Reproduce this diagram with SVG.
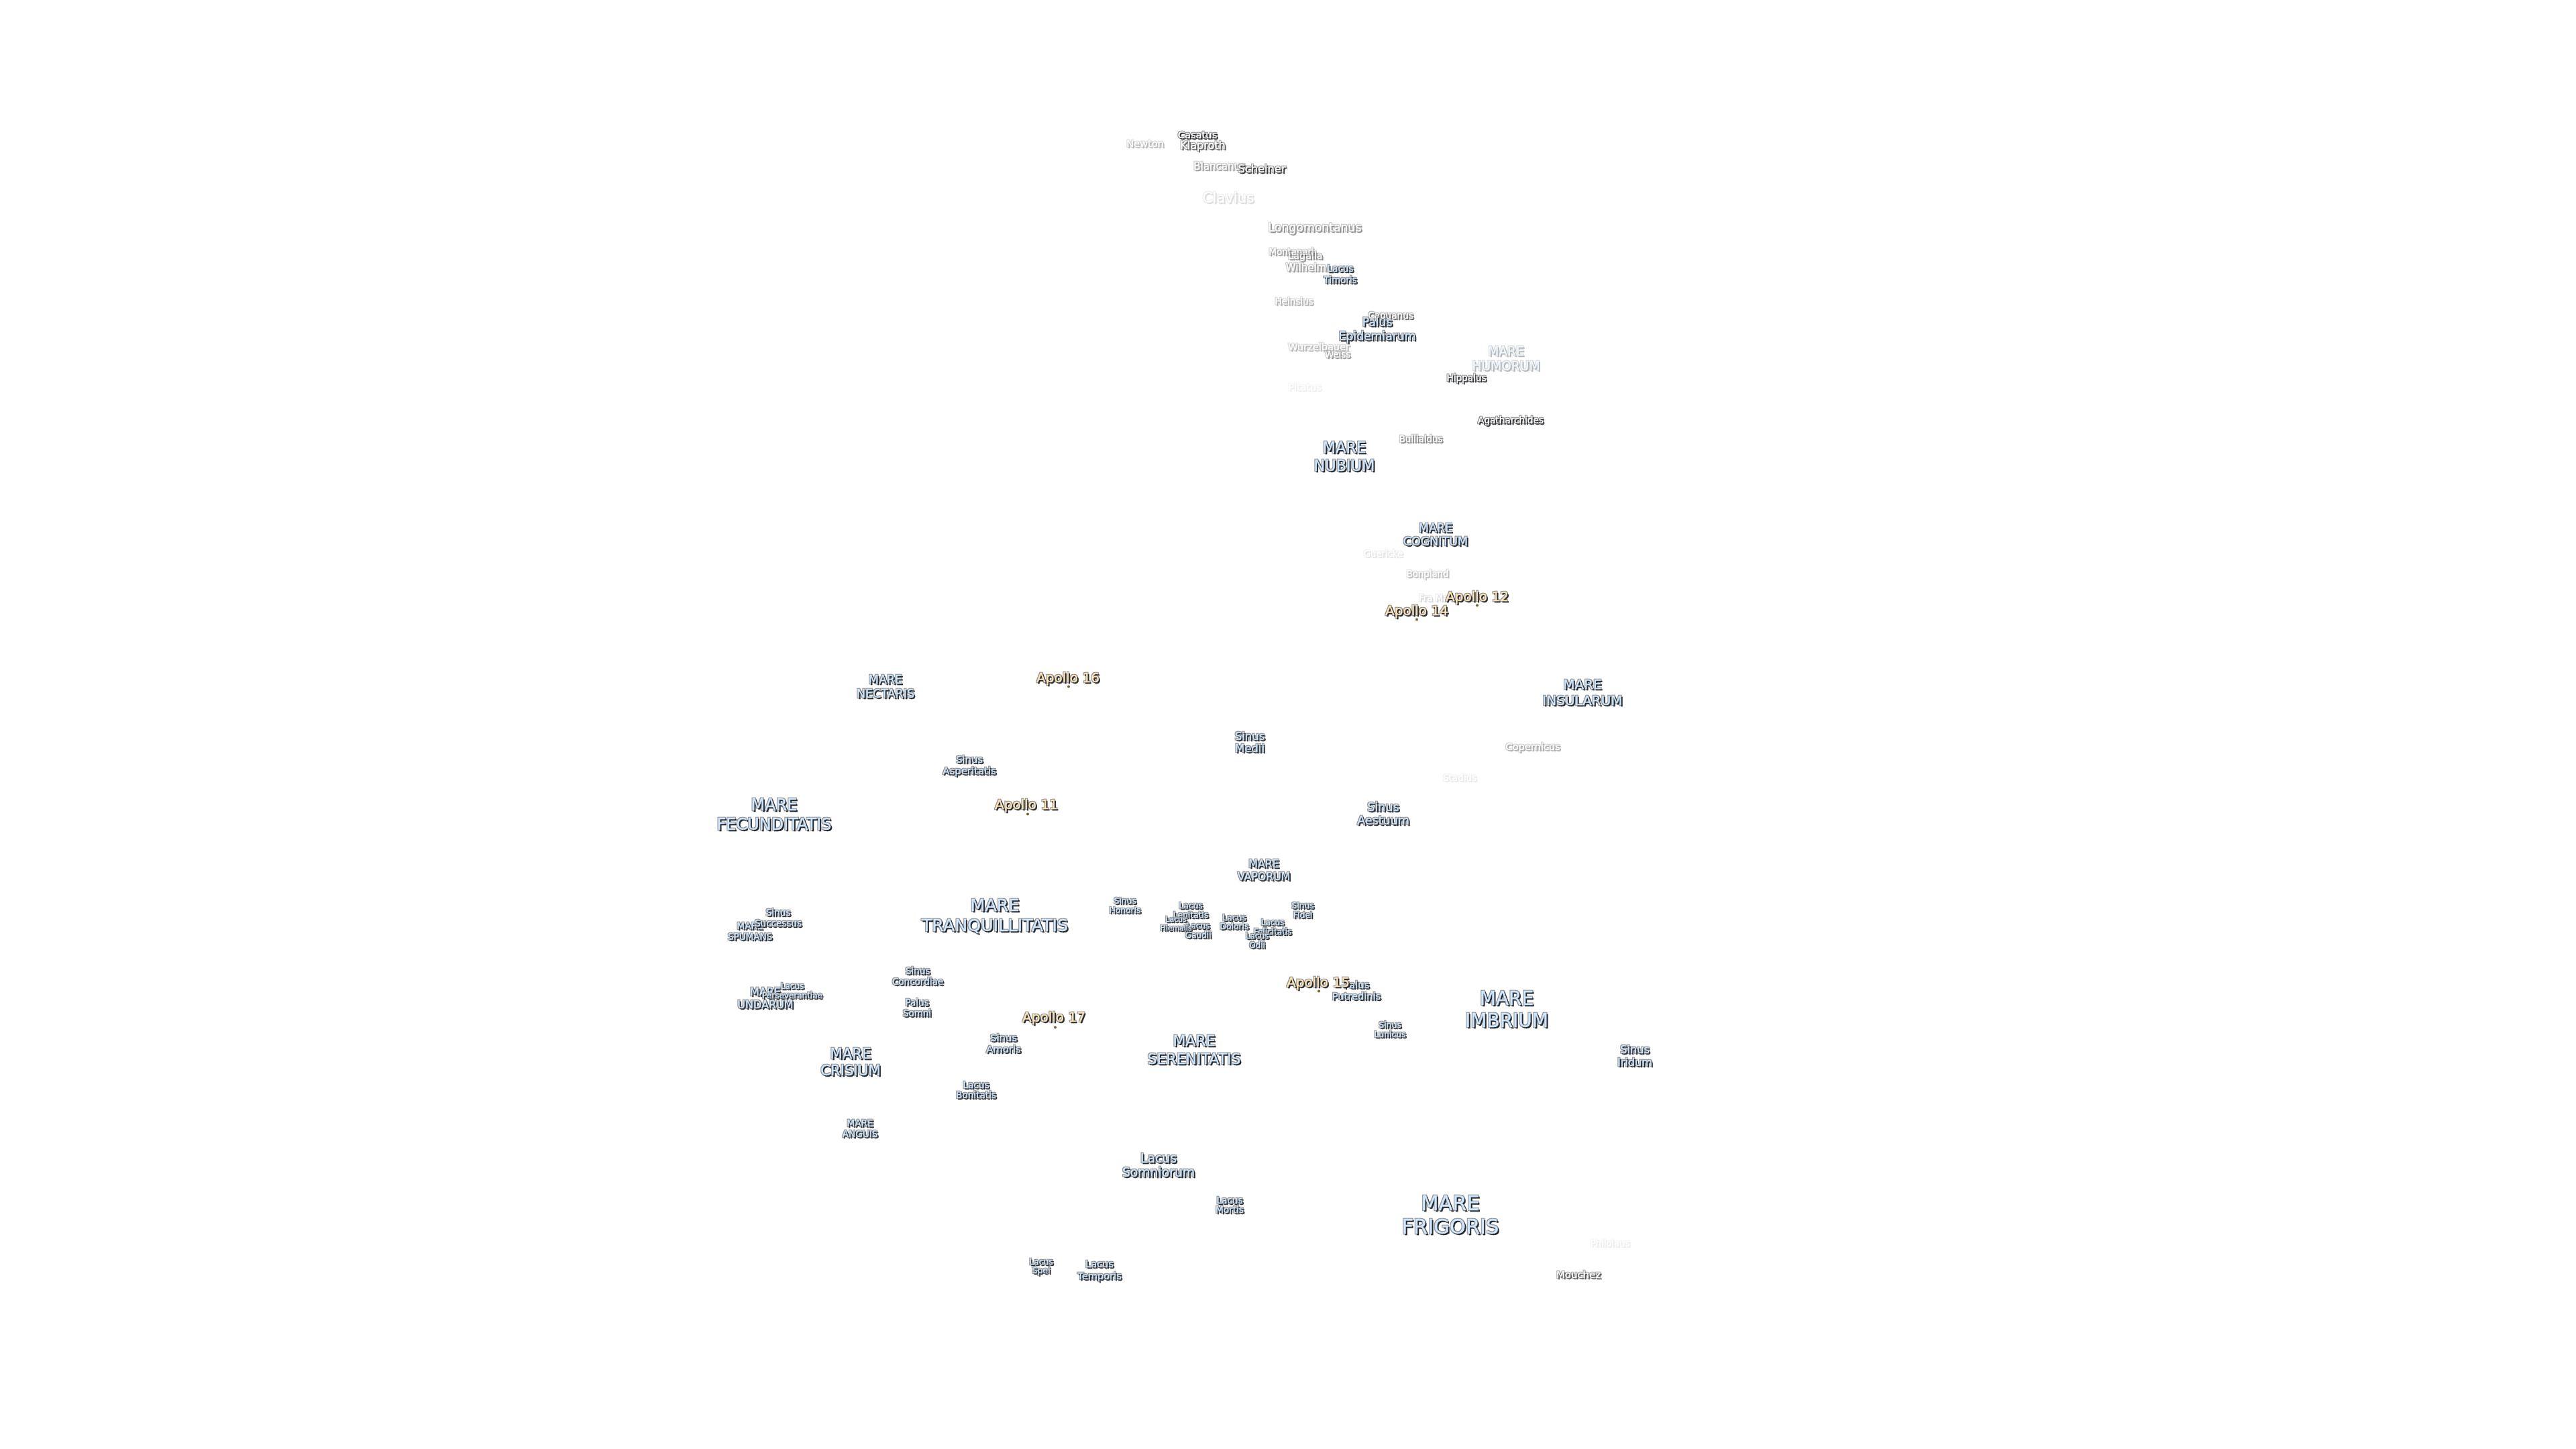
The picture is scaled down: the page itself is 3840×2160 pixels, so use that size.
<svg xmlns="http://www.w3.org/2000/svg" width="3840" height="2160" viewBox="0 0 3840 2160">
<style>
text{font-family:"DejaVu Sans",sans-serif;text-anchor:middle;filter:url(#h);stroke-width:.3}
.m text{fill:#d0e8ff;stroke:#d0e8ff}
.c text{fill:#fff;stroke:#fff}
.a text{fill:#ffe6b8;stroke:#ffe6b8}
.a circle{fill:#7a5c30}
</style>
<defs>
<filter id="h" x="-20%" y="-40%" width="140%" height="180%" color-interpolation-filters="sRGB">
<feMorphology in="SourceAlpha" operator="dilate" radius="1.2" result="d"/>
<feGaussianBlur in="d" stdDeviation="0.6" result="db"/>
<feFlood flood-color="#8c8c8c"/><feComposite in2="db" operator="in" result="halo"/>
<feOffset in="SourceAlpha" dx="1.5" dy="1.5" result="o"/>
<feMorphology in="o" operator="dilate" radius="0.45" result="od"/>
<feGaussianBlur in="od" stdDeviation="0.35" result="ob"/>
<feFlood flood-color="#23262a"/><feComposite in2="ob" operator="in" result="shadow"/>
<feGaussianBlur in="SourceGraphic" stdDeviation="0.3" result="f"/>
<feMerge><feMergeNode in="halo"/><feMergeNode in="shadow"/><feMergeNode in="f"/></feMerge>
</filter>
</defs>
<rect width="3840" height="2160" fill="#fff"/>
<g transform="translate(0 .5)">
<g id="newton" class="c" opacity=".33"><text x="1707" y="218" font-size="14.6">Newton</text></g>
<g id="klaproth" class="c" opacity=".75"><text x="1793" y="221" font-size="16">Klaproth</text></g>
<g id="casatus" class="c"><text x="1785" y="205" font-size="14.7">Casatus</text></g>
<g id="blancanus" class="c" opacity=".45"><text x="1818" y="252" font-size="15">Blancanus</text></g>
<g id="scheiner" class="c" opacity=".9"><text x="1881" y="256" font-size="16.3">Scheiner</text></g>
<g id="clavius" class="c" opacity=".16"><text x="1831" y="301" font-size="21.3">Clavius</text></g>
<g id="longomontanus" class="c" opacity=".5"><text x="1960" y="344" font-size="17.3">Longomontanus</text></g>
<g id="montanari" class="c" opacity=".45"><text x="1925" y="379" font-size="13.3">Montanari</text></g>
<g id="lagalla" class="c" opacity=".55"><text x="1946" y="385" font-size="14.3">Lagalla</text></g>
<g id="wilhelm" class="c" opacity=".45"><text x="1947" y="403" font-size="15">Wilhelm</text></g>
<g id="lacus-timoris" class="m"><text x="1998" y="404" font-size="13.5"><tspan x="1998">Lacus</tspan><tspan x="1998" y="421">Timoris</tspan></text></g>
<g id="heinsius" class="c" opacity=".36"><text x="1929" y="453" font-size="13.5">Heinsius</text></g>
<g id="capuanus" class="c" opacity=".7"><text x="2073" y="474" font-size="13.6">Capuanus</text></g>
<g id="palus-epidemiarum" class="m"><text x="2053" y="485" font-size="17.2"><tspan x="2053">Palus</tspan><tspan x="2053" y="506">Epidemiarum</tspan></text></g>
<g id="wurzelbauer" class="c" opacity=".33"><text x="1966" y="521" font-size="14.5">Wurzelbauer</text></g>
<g id="weiss" class="c" opacity=".47"><text x="1994" y="532" font-size="13.3">Weiss</text></g>
<g id="mare-humorum" class="m" opacity=".33"><text x="2245" y="529" font-size="18.6"><tspan x="2245">MARE</tspan><tspan x="2245" y="551">HUMORUM</tspan></text></g>
<g id="hippalus" class="c" opacity=".95"><text x="2186" y="567" font-size="13.6">Hippalus</text></g>
<g id="pitatus" class="c" opacity=".07"><text x="1945" y="581" font-size="14.5">Pitatus</text></g>
<g id="agatharchides" class="c"><text x="2252" y="630" font-size="13.6">Agatharchides</text></g>
<g id="bullialdus" class="c" opacity=".55"><text x="2118" y="658" font-size="13.4">Bullialdus</text></g>
<g id="mare-nubium" class="m"><text x="2004" y="674" font-size="22.4"><tspan x="2004">MARE</tspan><tspan x="2004" y="701">NUBIUM</tspan></text></g>
<g id="mare-cognitum" class="m"><text x="2140" y="792" font-size="17.5"><tspan x="2140">MARE</tspan><tspan x="2140" y="812">COGNITUM</tspan></text></g>
<g id="guericke" class="c" opacity=".12"><text x="2062" y="829" font-size="13.2">Guericke</text></g>
<g id="bonpland" class="c" opacity=".3"><text x="2128" y="859" font-size="13.3">Bonpland</text></g>
<g id="fra-mauro" class="c" opacity=".18"><text x="2148" y="895" font-size="13.3">Fra Mauro</text></g>
<g id="mare-nectaris" class="m"><text x="1320" y="1018" font-size="17.5"><tspan x="1320">MARE</tspan><tspan x="1320" y="1039">NECTARIS</tspan></text></g>
<g id="sinus-asperitatis" class="m"><text x="1445" y="1136" font-size="14.9"><tspan x="1445">Sinus</tspan><tspan x="1445" y="1153">Asperitatis</tspan></text></g>
<g id="mare-fecunditatis" class="m"><text x="1154" y="1207" font-size="24"><tspan x="1154">MARE</tspan><tspan x="1154" y="1236">FECUNDITATIS</tspan></text></g>
<g id="mare-insularum" class="m"><text x="2359" y="1026" font-size="20"><tspan x="2359">MARE</tspan><tspan x="2359" y="1050">INSULARUM</tspan></text></g>
<g id="sinus-medii" class="m"><text x="1863" y="1102" font-size="16.5"><tspan x="1863">Sinus</tspan><tspan x="1863" y="1120">Medii</tspan></text></g>
<g id="copernicus" class="c" opacity=".4"><text x="2285" y="1117" font-size="14.6">Copernicus</text></g>
<g id="stadius" class="c" opacity=".1"><text x="2176" y="1163" font-size="13.5">Stadius</text></g>
<g id="sinus-aestuum" class="m"><text x="2062" y="1208" font-size="17.5"><tspan x="2062">Sinus</tspan><tspan x="2062" y="1228">Aestuum</tspan></text></g>
<g id="mare-vaporum" class="m"><text x="1884" y="1292" font-size="15.8"><tspan x="1884">MARE</tspan><tspan x="1884" y="1311">VAPORUM</tspan></text></g>
<g id="sinus-honoris" class="m"><text x="1677" y="1346" font-size="12.3"><tspan x="1677">Sinus</tspan><tspan x="1677" y="1360">Honoris</tspan></text></g>
<g id="lacus-gaudii" class="m"><text x="1786" y="1383" font-size="12"><tspan x="1786">Lacus</tspan><tspan x="1786" y="1397">Gaudii</tspan></text></g>
<g id="lacus-lenitatis" class="m"><text x="1775" y="1353" font-size="12.3"><tspan x="1775">Lacus</tspan><tspan x="1775" y="1367">Lenitatis</tspan></text></g>
<g id="lacus-hiemalis" class="m"><text x="1753" y="1373" font-size="10.9"><tspan x="1753">Lacus</tspan><tspan x="1753" y="1386">Hiemalis</tspan></text></g>
<g id="lacus-doloris" class="m"><text x="1840" y="1371" font-size="12.3"><tspan x="1840">Lacus</tspan><tspan x="1840" y="1384">Doloris</tspan></text></g>
<g id="lacus-felicitatis" class="m"><text x="1897" y="1378" font-size="12"><tspan x="1897">Lacus</tspan><tspan x="1897" y="1392">Felicitatis</tspan></text></g>
<g id="lacus-odii" class="m"><text x="1874" y="1398" font-size="12"><tspan x="1874">Lacus</tspan><tspan x="1874" y="1412">Odii</tspan></text></g>
<g id="sinus-fidei" class="m"><text x="1942" y="1353" font-size="12.3"><tspan x="1942">Sinus</tspan><tspan x="1942" y="1367">Fidei</tspan></text></g>
<g id="mare-tranquillitatis" class="m"><text x="1483" y="1357" font-size="25.4"><tspan x="1483">MARE</tspan><tspan x="1483" y="1387">TRANQUILLITATIS</tspan></text></g>
<g id="mare-spumans" class="m"><text x="1118" y="1384" font-size="13.5"><tspan x="1118">MARE</tspan><tspan x="1118" y="1400">SPUMANS</tspan></text></g>
<g id="sinus-successus" class="m"><text x="1160" y="1364" font-size="13.5"><tspan x="1160">Sinus</tspan><tspan x="1160" y="1380">Successus</tspan></text></g>
<g id="mare-undarum" class="m"><text x="1141" y="1483" font-size="16"><tspan x="1141">MARE</tspan><tspan x="1141" y="1502">UNDARUM</tspan></text></g>
<g id="lacus-perseverantiae" class="m"><text x="1181" y="1473" font-size="12"><tspan x="1181">Lacus</tspan><tspan x="1181" y="1487">Perseverantiae</tspan></text></g>
<g id="sinus-concordiae" class="m"><text x="1368" y="1451" font-size="13.5"><tspan x="1368">Sinus</tspan><tspan x="1368" y="1467">Concordiae</tspan></text></g>
<g id="palus-somni" class="m"><text x="1367" y="1498" font-size="13.4"><tspan x="1367">Palus</tspan><tspan x="1367" y="1514">Somni</tspan></text></g>
<g id="sinus-amoris" class="m"><text x="1496" y="1551" font-size="14.8"><tspan x="1496">Sinus</tspan><tspan x="1496" y="1568">Amoris</tspan></text></g>
<g id="mare-crisium" class="m"><text x="1268" y="1577" font-size="21.3"><tspan x="1268">MARE</tspan><tspan x="1268" y="1602">CRISIUM</tspan></text></g>
<g id="lacus-bonitatis" class="m"><text x="1455" y="1621" font-size="13.6"><tspan x="1455">Lacus</tspan><tspan x="1455" y="1636">Bonitatis</tspan></text></g>
<g id="palus-putredinis" class="m"><text x="2022" y="1472" font-size="14.6"><tspan x="2022">Palus</tspan><tspan x="2022" y="1489">Putredinis</tspan></text></g>
<g id="sinus-lunicus" class="m"><text x="2072" y="1531" font-size="12.4"><tspan x="2072">Sinus</tspan><tspan x="2072" y="1545">Lunicus</tspan></text></g>
<g id="mare-imbrium" class="m"><text x="2246" y="1497" font-size="28"><tspan x="2246">MARE</tspan><tspan x="2246" y="1530">IMBRIUM</tspan></text></g>
<g id="sinus-iridum" class="m"><text x="2437" y="1569" font-size="16.2"><tspan x="2437">Sinus</tspan><tspan x="2437" y="1588">Iridum</tspan></text></g>
<g id="mare-serenitatis" class="m"><text x="1780" y="1558" font-size="22"><tspan x="1780">MARE</tspan><tspan x="1780" y="1585">SERENITATIS</tspan></text></g>
<g id="mare-anguis" class="m"><text x="1282" y="1678" font-size="13.6"><tspan x="1282">MARE</tspan><tspan x="1282" y="1694">ANGUIS</tspan></text></g>
<g id="lacus-somniorum" class="m"><text x="1727" y="1732" font-size="18.8"><tspan x="1727">Lacus</tspan><tspan x="1727" y="1753">Somniorum</tspan></text></g>
<g id="lacus-mortis" class="m"><text x="1833" y="1793" font-size="13.6"><tspan x="1833">Lacus</tspan><tspan x="1833" y="1807">Mortis</tspan></text></g>
<g id="lacus-spei" class="m"><text x="1552" y="1884" font-size="12.4"><tspan x="1552">Lacus</tspan><tspan x="1552" y="1897">Spei</tspan></text></g>
<g id="lacus-temporis" class="m"><text x="1639" y="1888" font-size="14.6"><tspan x="1639">Lacus</tspan><tspan x="1639" y="1906">Temporis</tspan></text></g>
<g id="mare-frigoris" class="m"><text x="2162" y="1803" font-size="30.5"><tspan x="2162">MARE</tspan><tspan x="2162" y="1838">FRIGORIS</tspan></text></g>
<g id="philolaus" class="c" opacity=".08"><text x="2400" y="1857" font-size="13.2">Philolaus</text></g>
<g id="mouchez" class="c" opacity=".77"><text x="2353" y="1904" font-size="14.9">Mouchez</text></g>
<g id="apollo-12" class="a"><circle cx="2202" cy="902" r="2"/><text x="2202" y="895" font-size="20">Apollo 12</text></g>
<g id="apollo-14" class="a"><circle cx="2112" cy="923" r="2"/><text x="2112" y="916" font-size="20">Apollo 14</text></g>
<g id="apollo-16" class="a"><circle cx="1593" cy="1023" r="2"/><text x="1592" y="1016" font-size="20">Apollo 16</text></g>
<g id="apollo-11" class="a"><circle cx="1532" cy="1213" r="2"/><text x="1530" y="1205" font-size="20">Apollo 11</text></g>
<g id="apollo-17" class="a"><circle cx="1573" cy="1531" r="2"/><text x="1571" y="1522" font-size="20">Apollo 17</text></g>
<g id="apollo-15" class="a"><circle cx="1966" cy="1477" r="2"/><text x="1965" y="1470" font-size="20">Apollo 15</text></g>
</g>
</svg>
